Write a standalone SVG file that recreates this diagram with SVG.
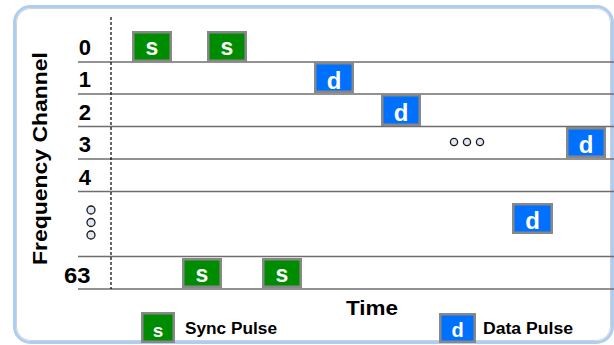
<svg xmlns="http://www.w3.org/2000/svg" width="614" height="345" viewBox="0 0 614 345">
  <style>
    .lbl { font-family: "Liberation Sans", Arial, sans-serif; font-weight: bold; fill: #000; }
    .row { font-size: 22px; text-anchor: end; }
    .grid { stroke: #6e6e6e; stroke-width: 1.5; }
    .pulse { stroke: #888888; stroke-width: 2.5; }
    .sync { fill: #008c00; }
    .data { fill: #0070ff; }
    .glyph { font-family: "Liberation Sans", Arial, sans-serif; font-weight: bold; fill: #fff; text-anchor: middle; }
    .dot { fill: #dfe7f5; stroke: #1a1a1a; stroke-width: 1.3; }
  </style>

  <!-- frame -->
  <g id="frame">
    <rect x="14.5" y="6.5" width="598" height="336" rx="16" fill="#fff" stroke="#aecdf3" stroke-width="3"/>
    <rect x="16.5" y="8.5" width="594" height="332" rx="14" fill="none" stroke="#c4c4c4" stroke-width="0.8"/>
  </g>

  <!-- channel lanes and time origin -->
  <g id="connectors">
    <line class="grid" x1="78" y1="62" x2="614" y2="62"/>
    <line class="grid" x1="78" y1="94" x2="614" y2="94"/>
    <line class="grid" x1="78" y1="126.5" x2="614" y2="126.5"/>
    <line class="grid" x1="78" y1="159" x2="614" y2="159"/>
    <line class="grid" x1="78" y1="191.5" x2="614" y2="191.5"/>
    <line class="grid" x1="78" y1="256.5" x2="614" y2="256.5"/>
    <line class="grid" x1="78" y1="289" x2="614" y2="289"/>
    <line x1="111" y1="17" x2="111" y2="289" stroke="#000" stroke-width="1.2" stroke-dasharray="3,2"/>
  </g>

  <!-- axis titles -->
  <g id="axis-frequency">
    <text class="lbl" font-size="20.5" text-anchor="middle" textLength="213" lengthAdjust="spacingAndGlyphs" transform="translate(46.5,158.5) rotate(-90)">Frequency Channel</text>
  </g>
  <g id="axis-time">
    <text class="lbl" x="346" y="315" font-size="21" textLength="52" lengthAdjust="spacingAndGlyphs">Time</text>
  </g>

  <!-- channel numbers -->
  <g id="channel-labels">
    <text class="lbl row" x="91" y="55">0</text>
    <text class="lbl row" x="91" y="87.3">1</text>
    <text class="lbl row" x="91" y="119.5">2</text>
    <text class="lbl row" x="91" y="152">3</text>
    <text class="lbl row" x="91" y="184.5">4</text>
    <text class="lbl row" x="90.5" y="283" textLength="26.5" lengthAdjust="spacingAndGlyphs">63</text>
  </g>
  <g id="channel-ellipsis">
    <circle class="dot" cx="91" cy="210" r="4"/>
    <circle class="dot" cx="91" cy="222.5" r="4"/>
    <circle class="dot" cx="91" cy="235" r="4"/>
  </g>
  <g id="time-ellipsis">
    <circle class="dot" cx="454" cy="142" r="3.6"/>
    <circle class="dot" cx="467" cy="142" r="3.6"/>
    <circle class="dot" cx="480" cy="142" r="3.6"/>
  </g>

  <!-- sync pulses -->
  <g id="sync-0a"><rect class="pulse sync" x="133.25" y="32.25" width="37.5" height="28.5"/><text class="glyph" x="152" y="55" font-size="23">s</text></g>
  <g id="sync-0b"><rect class="pulse sync" x="208.25" y="32.25" width="37.5" height="28.5"/><text class="glyph" x="227" y="55" font-size="23">s</text></g>
  <g id="sync-63a"><rect class="pulse sync" x="183.25" y="259.25" width="37.5" height="27.5"/><text class="glyph" x="202" y="282" font-size="23">s</text></g>
  <g id="sync-63b"><rect class="pulse sync" x="263.25" y="259.25" width="37.5" height="27.5"/><text class="glyph" x="282" y="282" font-size="23">s</text></g>

  <!-- data pulses -->
  <g id="data-1"><rect class="pulse data" x="315.25" y="63.25" width="37.5" height="28.5"/><text class="glyph" x="334" y="88.5" font-size="24">d</text></g>
  <g id="data-2"><rect class="pulse data" x="382.25" y="95.25" width="37.5" height="29.5"/><text class="glyph" x="401" y="121" font-size="24">d</text></g>
  <g id="data-3"><rect class="pulse data" x="567.25" y="128.25" width="37.5" height="28.5"/><text class="glyph" x="586" y="153" font-size="24">d</text></g>
  <g id="data-n"><rect class="pulse data" x="513.25" y="204.25" width="38.5" height="28.5"/><text class="glyph" x="532.5" y="229" font-size="24">d</text></g>

  <!-- legend -->
  <g id="legend-sync">
    <rect class="pulse sync" x="142.25" y="313.25" width="31.5" height="28.5"/>
    <text class="glyph" x="158" y="336.5" font-size="19">s</text>
    <text class="lbl" x="185" y="334" font-size="16" textLength="92" lengthAdjust="spacingAndGlyphs">Sync Pulse</text>
  </g>
  <g id="legend-data">
    <rect class="pulse data" x="440.25" y="314.25" width="34.5" height="27.5"/>
    <text class="glyph" x="457.5" y="337" font-size="20">d</text>
    <text class="lbl" x="483" y="334" font-size="16" textLength="90" lengthAdjust="spacingAndGlyphs">Data Pulse</text>
  </g>
</svg>
